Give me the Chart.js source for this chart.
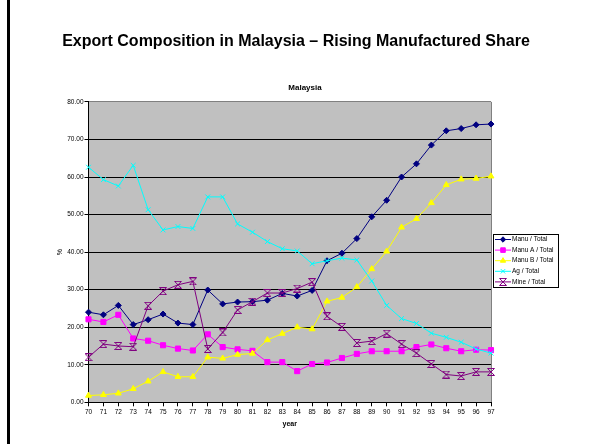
<!DOCTYPE html>
<html>
<head>
<meta charset="utf-8">
<script src="https://cdn.jsdelivr.net/npm/chart.js@4.4.0/dist/chart.umd.min.js"></script>
<style>
  html, body { margin: 0; padding: 0; background: #fff; }
  #wrap { position: relative; width: 592px; height: 444px; }
</style>
</head>
<body>
<div id="wrap"><canvas id="chart-lines" width="592" height="444"></canvas></div>
<script>
// data (share of total exports, %)

var years = ["70", "71", "72", "73", "74", "75", "76", "77", "78", "79",
  "80", "81", "82", "83", "84", "85", "86", "87", "88", "89",
  "90", "91", "92", "93", "94", "95", "96", "97"];

var manuTotal = [24.0, 23.3, 25.8, 20.7, 22.0, 23.5, 21.1, 20.7, 29.9, 26.2,
  26.7, 26.8, 27.2, 29.0, 28.3, 29.8, 37.7, 39.7, 43.6, 49.4,
  53.8, 60.0, 63.5, 68.5, 72.3, 72.9, 73.9, 74.1];

var manuA = [22.1, 21.4, 23.3, 17.0, 16.4, 15.2, 14.3, 13.8, 18.1, 14.7,
  14.1, 13.7, 10.7, 10.7, 8.3, 10.2, 10.6, 11.8, 12.9, 13.6,
  13.6, 13.6, 14.7, 15.4, 14.4, 13.6, 14.0, 13.9];

var manuB = [1.8, 2.0, 2.4, 3.6, 5.6, 8.1, 6.8, 6.8, 12.0, 11.7,
  12.7, 13.0, 16.6, 18.3, 20.0, 19.5, 26.9, 27.9, 30.7, 35.5,
  40.2, 46.6, 48.9, 53.1, 57.9, 59.4, 59.6, 60.2];

var agTotal = [62.6, 59.3, 57.6, 63.1, 51.3, 45.9, 46.8, 46.3, 54.7, 54.7,
  47.5, 45.3, 42.8, 40.9, 40.3, 36.9, 37.7, 38.4, 37.9, 32.3,
  25.8, 22.3, 21.0, 18.4, 17.3, 16.0, 14.2, 13.1];

var mineTotal = [12.0, 15.5, 15.0, 14.8, 25.7, 29.6, 31.3, 32.2, 14.2, 18.6,
  24.6, 26.8, 29.1, 29.1, 30.3, 32.0, 22.9, 20.1, 15.8, 16.3,
  18.3, 15.5, 13.1, 10.2, 7.4, 7.0, 8.1, 8.1];

var yMin = 0;
var yMax = 80;
var yStep = 10;

// excel style "x with bars" marker for the mine series
function mineMarker(color) {
  var c = document.createElement("canvas");
  c.width = 8;
  c.height = 8;
  var g = c.getContext("2d");
  g.strokeStyle = color;
  g.lineWidth = 1;
  g.beginPath();
  g.moveTo(0.5, 0.5); g.lineTo(7.5, 7.5);
  g.moveTo(7.5, 0.5); g.lineTo(0.5, 7.5);
  g.moveTo(0.5, 0.5); g.lineTo(7.5, 0.5);
  g.moveTo(0.5, 7.5); g.lineTo(7.5, 7.5);
  g.stroke();
  return c;
}

function series(label, values, color, style, radius, order) {
  return {
    label: label,
    data: values,
    borderColor: color,
    backgroundColor: color,
    pointBackgroundColor: color,
    pointBorderColor: color,
    borderWidth: 1,
    pointBorderWidth: 1,
    pointStyle: style,
    pointRadius: radius,
    tension: 0,
    fill: false,
    order: order,
  };
}

var datasets = [
  series("Manu / Total", manuTotal, "#000080", "rectRot", 3, 5),
  series("Manu A / Total", manuA, "#FF00FF", "rect", 3.6, 4),
  series("Manu B / Total", manuB, "#FFFF00", "triangle", 3.4, 3),
  series("Ag / Total", agTotal, "#00FFFF", "crossRot", 3.4, 2),
  series("Mine / Total", mineTotal, "#800080", mineMarker("#800080"), 4, 1),
];

// page background, frame line, grey plot area
var backdrop = {
  id: "backdrop",
  beforeDraw: function (chart) {
    var c = chart.ctx;
    var a = chart.chartArea;
    c.save();
    c.fillStyle = "#fff";
    c.fillRect(0, 0, chart.width, chart.height);
    c.fillStyle = "#000";
    c.fillRect(7, 0, 3, chart.height);
    c.fillStyle = "#C0C0C0";
    c.fillRect(a.left, a.top, a.right - a.left, a.bottom - a.top);
    c.strokeStyle = "#808080";
    c.lineWidth = 1;
    c.beginPath();
    c.moveTo(Math.round(a.right) + 0.5, a.top);
    c.lineTo(Math.round(a.right) + 0.5, a.bottom);
    c.stroke();
    c.restore();
  },
};

// small chart title over the plot
var plotTitle = {
  id: "plotTitle",
  afterDraw: function (chart) {
    var c = chart.ctx;
    c.save();
    c.fillStyle = "#000";
    c.font = "bold 8px 'Liberation Sans', Arial, sans-serif";
    c.textAlign = "center";
    c.textBaseline = "middle";
    c.fillText("Malaysia", 305, 88);
    c.restore();
  },
};

// boxed legend to the right of the plot
var boxLegend = {
  id: "boxLegend",
  afterDraw: function (chart) {
    var c = chart.ctx;
    var left = 493, top = 234, w = 65, h = 53;
    c.save();
    c.fillStyle = "#fff";
    c.fillRect(left, top, w, h);
    c.strokeStyle = "#000";
    c.lineWidth = 1;
    c.strokeRect(left + 0.5, top + 0.5, w, h);
    c.font = "6.5px 'Liberation Sans', Arial, sans-serif";
    c.textBaseline = "middle";
    chart.data.datasets.forEach(function (ds, i) {
      var y = top + 5.5 + i * 10.6;
      c.strokeStyle = ds.borderColor;
      c.fillStyle = ds.backgroundColor;
      c.lineWidth = 1;
      c.beginPath();
      c.moveTo(left + 2, y);
      c.lineTo(left + 18, y);
      c.stroke();
      Chart.helpers.drawPoint(c, {
        pointStyle: ds.pointStyle,
        radius: ds.pointRadius * 0.9,
        rotation: 0,
        borderWidth: 1,
      }, left + 10, y);
      c.fillStyle = "#000";
      c.fillText(ds.label, left + 19, y);
    });
    c.restore();
  },
};

var ctx = document.getElementById("chart-lines").getContext("2d");

new Chart(ctx, {
  type: "line",
  data: {
    labels: years,
    datasets: datasets,
  },
  plugins: [backdrop, plotTitle, boxLegend],
  options: {
    responsive: false,
    animation: false,
    layout: {
      padding: 0,
    },
    plugins: {
      legend: { display: false },
      tooltip: { enabled: false },
      title: {
        display: true,
        text: "Export Composition in Malaysia \u2013 Rising Manufactured Share",
        color: "#000",
        font: { family: "'Liberation Sans', Arial", size: 16, weight: "bold", lineHeight: 1.2 },
        padding: { top: 32, bottom: 50.7 },
      },
    },
    scales: {
      x: {
        offset: false,
        afterFit: function (scale) { scale.height = 41.7; },
        border: { display: true, color: "#000", width: 1 },
        grid: {
          drawOnChartArea: false,
          drawTicks: true,
          tickLength: 4,
          tickColor: "#000",
        },
        ticks: {
          autoSkip: false,
          maxRotation: 0,
          padding: 2,
          color: "#000",
          font: { family: "'Liberation Sans', Arial", size: 6.5 },
        },
        title: {
          display: true,
          text: "year",
          color: "#000",
          font: { family: "'Liberation Sans', Arial", size: 7, weight: "bold" },
          padding: { top: 0, bottom: 15.8 },
        },
      },
      y: {
        min: yMin,
        max: yMax,
        afterFit: function (scale) { scale.width = 88.5; },
        border: { display: true, color: "#000", width: 1 },
        grid: {
          color: function (c) { return c.tick && c.tick.value === yMax ? "#808080" : "#000"; },
          lineWidth: 1,
          drawTicks: true,
          tickLength: 4,
          tickColor: "#000",
        },
        ticks: {
          stepSize: yStep,
          padding: 1,
          color: "#000",
          font: { family: "'Liberation Sans', Arial", size: 6.5 },
          callback: function (v) { return Number(v).toFixed(2); },
        },
        title: {
          display: true,
          text: "%",
          color: "#000",
          font: { family: "'Liberation Sans', Arial", size: 7 },
          padding: { top: 55.8, bottom: 0 },
        },
      },
      // empty right-hand axis that keeps room for the legend box
      side: {
        type: "linear",
        position: "right",
        display: true,
        afterFit: function (scale) { scale.width = 101; },
        grid: { display: false, drawTicks: false },
        border: { display: false },
        ticks: { display: false },
      },
    },
  },
});
</script>
</body>
</html>
